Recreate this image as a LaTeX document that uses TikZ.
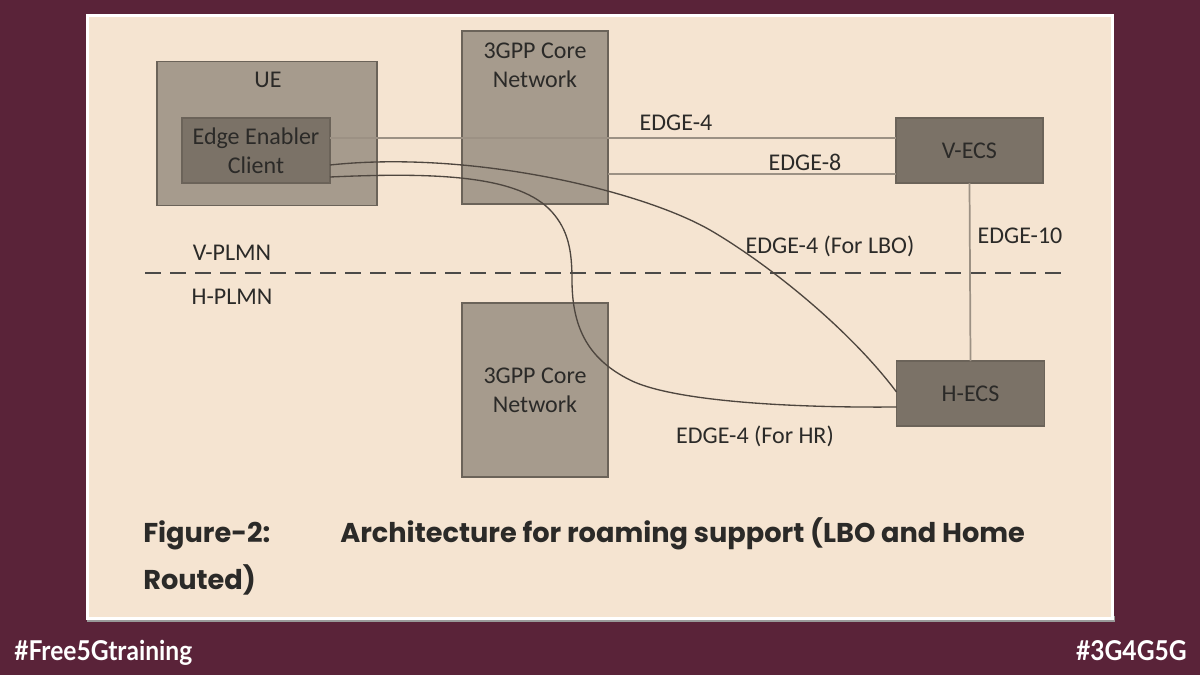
\documentclass[tikz,border=0pt]{standalone}
\usepackage{fontspec}
\setmainfont{Carlito}
\newfontfamily\capfont{Poppins}
\newfontfamily\tagfont[FakeStretch=0.9]{Lato}
\usetikzlibrary{calc,positioning}
\definecolor{maroon}{HTML}{5A2339}
\definecolor{paper}{HTML}{F5E4D1}
\definecolor{boxlight}{HTML}{A69B8D}
\definecolor{boxdark}{HTML}{7B7267}
\definecolor{boxedge}{HTML}{6B6359}
\definecolor{ink}{HTML}{2B2A28}
\definecolor{wire}{HTML}{9C9184}
\definecolor{wiredark}{HTML}{4E463F}
\tikzset{
  lightbox/.style = {draw=boxedge, fill=boxlight, line width=0.9pt,
                     rectangle, inner sep=0pt, outer sep=0pt},
  darkbox/.style  = {draw=boxedge, fill=boxdark, line width=0.9pt,
                     rectangle, inner sep=0pt, outer sep=0pt,
                     minimum height=48.75pt},
  txt/.style      = {text=ink, font=\fontsize{18}{21.75}\selectfont,
                     align=center, inner sep=0pt},
  link/.style     = {draw=wire, line width=1.3pt},
  route/.style    = {draw=wiredark, line width=1pt},
  divider/.style  = {draw=ink!85, line width=1.6pt, dash pattern=on 12pt off 6.75pt},
  caption/.style  = {text=ink, font=\capfont\bfseries\fontsize{20.4}{24}\selectfont,
                     inner sep=0pt},
  hashtag/.style  = {text=white, font=\tagfont\bfseries\fontsize{20.5}{24}\selectfont,
                     inner sep=0pt},
}
\begin{document}
\begin{tikzpicture}[x=0.75pt, y=-0.75pt]
\useasboundingbox (0,0) rectangle (1200,675);
% ---- slide and panel ----
\fill[maroon] (0,0) rectangle (1200,675);
\fill[black!40] (87,616) rectangle (1115,622);
\fill[white] (86,14) rectangle (1114,620);
\fill[paper] (89,17) rectangle (1111,617);
% ---- visited side ----
\node[lightbox, minimum width=165pt, minimum height=108pt] (ue) at (267,133.5) {};
\node[txt] (uetxt) at (268,80) {UE};
\node[darkbox, txt, minimum width=111pt, fill=boxdark, draw=boxedge] (eec)
      at (256,150.5) {Edge Enabler\\Client};
\node[lightbox, minimum width=109.5pt, minimum height=129.75pt] (corev)
      at (535,117.5) {};
\node[txt] (corevtxt) at (535,65) {3GPP Core\\Network};
\node[darkbox, txt, minimum width=110.25pt, fill=boxdark, draw=boxedge] (vecs)
      at (969.5,150.5) {V-ECS};
% ---- home side ----
\node[lightbox, txt, minimum width=109.5pt, minimum height=130.5pt,
      fill=boxlight, draw=boxedge] (coreh) at (535,390) {3GPP Core\\Network};
\node[darkbox, txt, minimum width=111pt, fill=boxdark, draw=boxedge] (hecs)
      at (970.5,393.5) {H-ECS};
% ---- PLMN border ----
\draw[divider] (145,273) -- (1065,273);
\node[txt] (vplmn) at (232,253) {V-PLMN};
\node[txt] (hplmn) at (232,297) {H-PLMN};
% ---- reference points ----
\coordinate (e8) at ($(vecs.west)+(0,23.5)$);
\draw[link] ($(eec.east)+(0,-12.5)$) -- ($(vecs.west)+(0,-12.5)$);
\draw[link] (corev.east |- e8) -- (e8);
\draw[link] (vecs.south) -- (hecs.north);
\draw[route] ($(eec.east)+(0,14.5)$) .. controls (470,150) and (640,190) .. (710,230)
      .. controls (770,265) and (850,330) .. ($(hecs.west)+(0,-1.5)$);
\draw[route] ($(eec.east)+(0,26.5)$) .. controls (440,172) and (520,176) .. (552,212)
      .. controls (568,230) and (572,250) .. (572,280)
      .. controls (572,330) and (590,360) .. (630,380)
      .. controls (670,400) and (780,408) .. ($(hecs.west)+(0,13.5)$);
\node[txt] (l4) at (676,123) {EDGE-4};
\node[txt] (l8) at (805,162) {EDGE-8};
\node[txt] (l10) at (1020,236) {EDGE-10};
\node[txt] (llbo) at (830,246) {EDGE-4 (For LBO)};
\node[txt] (lhr) at (755,436) {EDGE-4 (For HR)};
% ---- caption and tags ----
\node[caption, anchor=base west] (fig) at (143,542) {Figure-2:};
\node[caption, anchor=base west] (title) at (340,542)
      {Architecture for roaming support (LBO and Home};
\node[caption, anchor=base west] (title2) at (143,589) {Routed)};
\node[hashtag, anchor=base west] (tagl) at (14,660) {\#Free5Gtraining};
\node[hashtag, anchor=base east] (tagr) at (1187,660) {\#3G4G5G};
\end{tikzpicture}
\end{document}
